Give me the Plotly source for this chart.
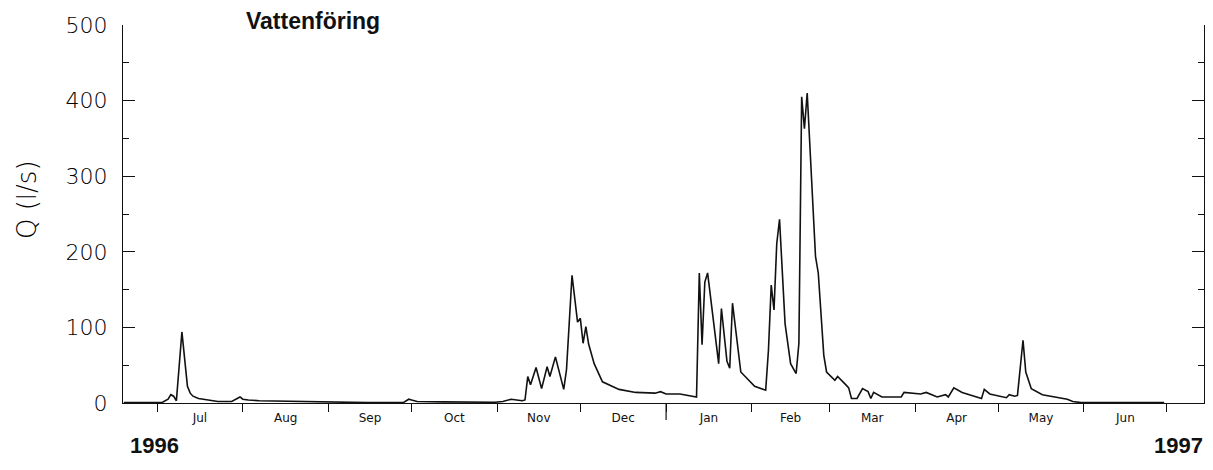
import plotly.graph_objects as go

# ---- data ----
dates = [
    "1996-06-19", "1996-07-03", "1996-07-05", "1996-07-06", "1996-07-07", "1996-07-08",
    "1996-07-10", "1996-07-11", "1996-07-12", "1996-07-13", "1996-07-14", "1996-07-16",
    "1996-07-19", "1996-07-23", "1996-07-28", "1996-07-31", "1996-08-01", "1996-08-03",
    "1996-08-07", "1996-08-15", "1996-08-25", "1996-09-03", "1996-09-15", "1996-09-28",
    "1996-09-30", "1996-10-01", "1996-10-03", "1996-10-12", "1996-10-31", "1996-11-03",
    "1996-11-06", "1996-11-10", "1996-11-11", "1996-11-12", "1996-11-13", "1996-11-15",
    "1996-11-17", "1996-11-19", "1996-11-20", "1996-11-22", "1996-11-25", "1996-11-26",
    "1996-11-28", "1996-11-30", "1996-12-01", "1996-12-02", "1996-12-03", "1996-12-04",
    "1996-12-06", "1996-12-09", "1996-12-15", "1996-12-21", "1996-12-28", "1996-12-30",
    "1997-01-01", "1997-01-06", "1997-01-12", "1997-01-13", "1997-01-14", "1997-01-15",
    "1997-01-16", "1997-01-20", "1997-01-21", "1997-01-23", "1997-01-24", "1997-01-25",
    "1997-01-28", "1997-02-02", "1997-02-06", "1997-02-07", "1997-02-08", "1997-02-09",
    "1997-02-10", "1997-02-11", "1997-02-13", "1997-02-15", "1997-02-17", "1997-02-18",
    "1997-02-19", "1997-02-20", "1997-02-21", "1997-02-24", "1997-02-25", "1997-02-27",
    "1997-02-28", "1997-03-03", "1997-03-04", "1997-03-07", "1997-03-08", "1997-03-09",
    "1997-03-11", "1997-03-13", "1997-03-15", "1997-03-16", "1997-03-17", "1997-03-20",
    "1997-03-27", "1997-03-28", "1997-04-03", "1997-04-05", "1997-04-09", "1997-04-12",
    "1997-04-13", "1997-04-15", "1997-04-18", "1997-04-25", "1997-04-26", "1997-04-28",
    "1997-05-04", "1997-05-05", "1997-05-07", "1997-05-08", "1997-05-10", "1997-05-11",
    "1997-05-13", "1997-05-17", "1997-05-21", "1997-05-26", "1997-05-28", "1997-05-31",
    "1997-06-30",
]
flow_ls = [
    0.5, 1, 5, 11, 9, 3,
    94, 55, 22, 13, 9, 6,
    4, 2, 2, 8, 5, 4,
    3, 2.5, 2, 1, 0.5, 0.5,
    5, 4, 2, 1.5, 1, 2,
    5, 3, 4, 35, 24, 47,
    19, 48, 35, 61, 18, 44,
    169, 107, 112, 79, 101, 78,
    52, 28, 18, 14, 13, 15,
    12, 12, 8, 172, 77, 160,
    172, 52, 125, 55, 46, 132,
    41, 22, 17, 70, 156, 123,
    211, 243, 105, 52, 39, 79,
    405, 363, 410, 194, 172, 63,
    41, 30, 35, 24, 20, 6,
    6, 19, 15, 6, 14, 8,
    8, 14, 12, 14, 8, 11,
    8, 20, 14, 6, 18, 12,
    7, 11, 9, 10, 83, 41,
    19, 11, 8, 5, 2, 0.5,
    0.5,
]

x_range = ["1996-06-18 17:00", "1997-07-14 10:00"]
y_range = [0, 500]
first_month = "1996-07-01"
year_break = "1997-01-01"
title_text = "Vattenföring"
y_title = "Q (l/s)"
year_labels = ["1996", "1997"]

W, H = 1213, 470
L, R, T, B = 123, 9, 25, 67
PW, PH = W - L - R, H - T - B

# ---- figure ----
fig = go.Figure()
fig.add_trace(go.Scatter(
    x=dates, y=flow_ls, mode="lines",
    line=dict(color="#111111", width=1.6),
    showlegend=False, hoverinfo="x+y",
))

thin_font = dict(family="DejaVu Sans", size=22, color="#000000", weight=300)

fig.update_layout(
    width=W, height=H,
    margin=dict(l=L, r=R, t=T, b=B, autoexpand=False),
    paper_bgcolor="white", plot_bgcolor="white",
    title=dict(
        text=title_text, xref="container", yref="container",
        x=246 / W, xanchor="left", y=1 - 21 / H, yanchor="middle",
        font=dict(family="Liberation Sans", size=23, color="#111111", weight="bold"),
    ),
    xaxis=dict(
        type="date", range=x_range, showgrid=False, zeroline=False,
        showline=True, linecolor="#111111", linewidth=1.4,
        tick0=first_month, dtick="M1", ticklabelmode="period", tickformat="%b",
        ticks="outside", ticklen=8, tickwidth=1.2, tickcolor="#111111",
        tickfont=dict(family="DejaVu Sans", size=12, color="#111111"),
        ticklabelstandoff=-5,
    ),
    yaxis=dict(
        range=y_range, showgrid=False, zeroline=False,
        showline=True, linecolor="#111111", linewidth=1.4, mirror="ticks",
        tick0=0, dtick=100, ticks="inside", ticklen=12, tickwidth=1.2, tickcolor="#111111",
        minor=dict(dtick=50, ticks="inside", ticklen=6, tickwidth=1.2, tickcolor="#111111"),
        tickfont=thin_font, ticklabelstandoff=10,
    ),
)

# y-axis title, rotated
fig.add_annotation(text=y_title, xref="paper", yref="paper",
                   x=(27 - L) / PW, y=(H - B - 200) / PH, xanchor="center", yanchor="middle",
                   textangle=-90, showarrow=False,
                   font=dict(family="DejaVu Sans", size=26, color="#000000", weight=300))

# longer tick at the year change
fig.add_shape(type="line", xref="x", yref="paper", x0=year_break, x1=year_break,
              y0=0, y1=-0.045, line=dict(color="#111111", width=1.2))

# year labels under the axis
for txt, xp, anchor in [(year_labels[0], 128, "left"), (year_labels[1], 1205, "right")]:
    fig.add_annotation(text=txt, xref="paper", yref="paper", x=(xp - L) / PW,
                       y=-(445 - (H - B)) / PH, xanchor=anchor, yanchor="middle", showarrow=False,
                       font=dict(family="Liberation Sans", size=22, color="#111111", weight="bold"))

fig.write_html("out.html")
